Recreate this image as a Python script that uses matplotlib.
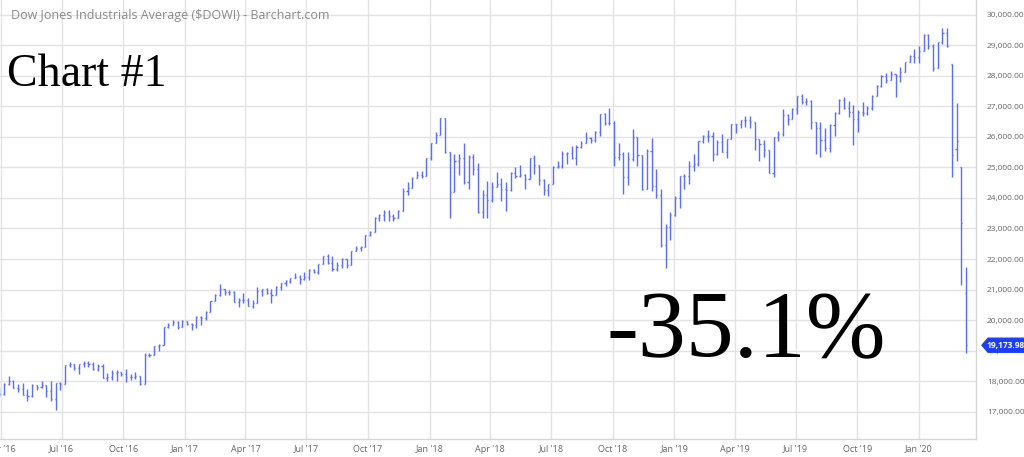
import matplotlib
matplotlib.use("Agg")
import matplotlib.pyplot as plt
import matplotlib.dates as mdates
from matplotlib.patches import Polygon
from matplotlib.ticker import FuncFormatter
import pandas as pd

# ---------------- data: weekly OHLC of the Dow Jones Industrial Average ----------------
start_week = "2016-03-28"

opens = [
    # 2016
    17515, 17799, 17586, 17890, 18003, 17783, 17740, 17531, 17500, 17873,
    17807, 17865, 17675, 17400, 17949, 17896, 18516, 18570, 18432, 18543,
    18576, 18552, 18395, 18492, 18085, 18123, 18261, 18308, 18240, 18138,
    18145, 18161, 17888, 18847, 18868, 19152, 19171, 19757, 19843, 19934,
    # 2017
    19763, 19964, 19885, 19827, 20094, 20071, 20269, 20624, 20822, 21006,
    20903, 20915, 20597, 20663, 20656, 20453, 20548, 20941, 21007, 20897,
    20805, 21080, 21206, 21272, 21384, 21395, 21350, 21414, 21638, 21580,
    21830, 22092, 21858, 21675, 21814, 21988, 21798, 22268, 22350, 22405,
    22774, 22872, 23329, 23434, 23539, 23422, 23358, 23558, 24231, 24329,
    24652, 24754,
    # 2018
    24719, 25296, 25803, 26072, 26617, 25521, 24191, 25219, 25310, 24539,
    25336, 24946, 23534, 24103, 23933, 24360, 24463, 24311, 24263, 24831,
    24715, 24753, 24635, 25317, 25090, 24581, 24271, 24456, 25019, 25058,
    25451, 25463, 25313, 25669, 25790, 25965, 25917, 26155, 26743, 26458,
    26447, 25340, 25444, 24688, 25270, 25989, 25413, 24286, 25538, 24389,
    24100, 22445,
    # 2019
    23062, 23433, 23996, 24706, 24737, 25064, 25106, 25883, 26031, 26026,
    25450, 25849, 25502, 25929, 26425, 26412, 26559, 26543, 26505, 25942,
    25764, 25586, 24815, 25984, 26090, 26719, 26600, 26922, 27332, 27154,
    27192, 26485, 26287, 25886, 25629, 26403, 26797, 27220, 26935, 26820,
    26573, 26817, 26770, 26958, 27347, 27681, 28005, 27876, 28051, 28015,
    28135, 28455,
    # 2020
    28645, 28634, 28824, 29348, 28990, 28256, 29102, 29398, 28402, 25590,
    25000, 20900,
]

highs = [
    # 2016
    17792, 17799, 17938, 18168, 18042, 17912, 17935, 17746, 17891, 17873,
    18016, 17865, 18011, 17950, 17979, 18537, 18623, 18571, 18560, 18668,
    18650, 18620, 18550, 18550, 18260, 18362, 18366, 18308, 18399, 18230,
    18284, 18176, 18934, 18934, 19153, 19225, 19757, 19912, 19988, 19981,
    # 2017
    19999, 19973, 19917, 20126, 20125, 20298, 20639, 20840, 21169, 21006,
    21000, 20962, 20728, 20888, 20716, 20657, 21070, 21033, 21034, 21012,
    21112, 21225, 21305, 21392, 21535, 21480, 21562, 21681, 21681, 21830,
    22092, 22180, 22085, 21910, 22025, 21988, 22275, 22419, 22414, 22780,
    22906, 23368, 23485, 23602, 23602, 23470, 23604, 24327, 24534, 24672,
    24876, 24871,
    # 2018
    25316, 25811, 26153, 26617, 26617, 25521, 25432, 25441, 25800, 25400,
    25450, 25140, 24247, 24541, 24533, 24858, 24670, 24511, 24868, 25013,
    25087, 24800, 25326, 25402, 25090, 24635, 24474, 25060, 25216, 25527,
    25511, 25692, 25747, 25876, 26167, 26000, 26200, 26769, 26770, 26952,
    26520, 25818, 25521, 25502, 26277, 26010, 25413, 25600, 25980, 24951,
    24300, 23138,
    # 2019
    23531, 24064, 24706, 24800, 25200, 25439, 25883, 26052, 26241, 26155,
    25907, 26109, 25949, 26425, 26425, 26565, 26695, 26695, 26505, 25942,
    25900, 25586, 25984, 26186, 26907, 26769, 26966, 27359, 27398, 27269,
    27227, 26490, 26501, 26283, 26434, 26828, 27235, 27300, 27170, 27046,
    26880, 27143, 27010, 27360, 27704, 28037, 28090, 28175, 28068, 28290,
    28457, 28701,
    # 2020
    28872, 28995, 29374, 29374, 29040, 29103, 29569, 29568, 28402, 27102,
    25018, 21750,
]

lows = [
    # 2016
    17482, 17484, 17542, 17880, 17762, 17630, 17531, 17331, 17476, 17703,
    17779, 17471, 17356, 17063, 17713, 17896, 18448, 18358, 18247, 18473,
    18460, 18360, 18340, 18085, 17992, 18050, 18013, 18150, 17960, 18020,
    18080, 17884, 17888, 18777, 18868, 18995, 19171, 19725, 19843, 19718,
    # 2017
    19775, 19835, 19678, 19746, 19831, 20010, 20269, 20624, 20787, 20813,
    20813, 20600, 20412, 20550, 20453, 20380, 20548, 20800, 20841, 20553,
    20805, 20971, 21104, 21215, 21385, 21197, 21320, 21320, 21530, 21513,
    21830, 21844, 21600, 21600, 21705, 21709, 21798, 22250, 22247, 22405,
    22743, 22872, 23231, 23242, 23250, 23242, 23358, 23558, 24114, 24329,
    24652, 24665,
    # 2018
    24719, 25240, 25800, 26072, 25490, 23360, 24191, 24760, 24445, 24300,
    24770, 23509, 23344, 23344, 23860, 24360, 23908, 23582, 24215, 24655,
    24680, 24296, 24635, 24800, 24430, 24084, 24077, 24456, 24970, 24980,
    25124, 25280, 25087, 25640, 25790, 25790, 25828, 26030, 26385, 26380,
    25052, 25237, 24122, 24432, 25200, 25062, 24268, 24286, 24242, 24002,
    22397, 21713,
    # 2019
    22638, 23413, 23660, 24302, 24473, 24883, 25052, 25800, 25832, 25208,
    25400, 25502, 25323, 25929, 26139, 26295, 26340, 26300, 25589, 25222,
    25328, 24815, 24680, 25860, 26040, 26406, 26600, 26739, 27076, 27036,
    26249, 25440, 25340, 25550, 25500, 26040, 26750, 26930, 26660, 25743,
    26169, 26692, 26714, 26885, 27347, 27646, 27766, 27876, 27325, 27815,
    28135, 28455,
    # 2020
    28418, 28419, 28819, 28887, 28169, 28256, 29060, 28960, 24681, 25226,
    21154, 18917,
]

closes = [
    # 2016
    17792, 17577, 17897, 18003, 17773, 17740, 17535, 17500, 17873, 17807,
    17865, 17675, 17400, 17949, 17896, 18516, 18570, 18432, 18543, 18576,
    18552, 18395, 18492, 18085, 18123, 18261, 18308, 18240, 18138, 18145,
    18161, 17888, 18847, 18868, 19152, 19171, 19757, 19843, 19934, 19763,
    # 2017
    19964, 19885, 19827, 20094, 20071, 20269, 20624, 20822, 21006, 20903,
    20915, 20597, 20663, 20656, 20453, 20548, 20941, 21007, 20897, 20805,
    21080, 21206, 21272, 21384, 21395, 21350, 21414, 21638, 21580, 21830,
    22092, 21858, 21675, 21814, 21988, 21798, 22268, 22350, 22405, 22774,
    22872, 23329, 23434, 23539, 23422, 23358, 23558, 24231, 24329, 24652,
    24754, 24719,
    # 2018
    25296, 25803, 26072, 26617, 25521, 24191, 25219, 25310, 24539, 25336,
    24946, 23534, 24103, 23933, 24360, 24463, 24311, 24263, 24831, 24715,
    24753, 24635, 25317, 25090, 24581, 24271, 24456, 25019, 25058, 25451,
    25463, 25313, 25669, 25790, 25965, 25917, 26155, 26743, 26458, 26447,
    25340, 25444, 24688, 25270, 25989, 25413, 24286, 25538, 24389, 24100,
    22445, 23062,
    # 2019
    23433, 23996, 24706, 24737, 25064, 25106, 25883, 26031, 26026, 25450,
    25849, 25502, 25929, 26425, 26412, 26559, 26543, 26505, 25942, 25764,
    25586, 24815, 25984, 26090, 26719, 26600, 26922, 27332, 27154, 27192,
    26485, 26287, 25886, 25629, 26403, 26797, 27220, 26935, 26820, 26573,
    26817, 26770, 26958, 27347, 27681, 28005, 27876, 28051, 28015, 28135,
    28455, 28645,
    # 2020
    28634, 28824, 29348, 28990, 28256, 29102, 29398, 28992, 25409, 25864,
    23186, 19173.98,
]

y_ticks = [17000, 18000, 19000, 20000, 21000, 22000, 23000, 24000, 25000,
           26000, 27000, 28000, 29000, 30000]
x_tick_dates = ["2016-04-01", "2016-07-01", "2016-10-01", "2017-01-01", "2017-04-01",
                "2017-07-01", "2017-10-01", "2018-01-01", "2018-04-01", "2018-07-01",
                "2018-10-01", "2019-01-01", "2019-04-01", "2019-07-01", "2019-10-01",
                "2020-01-01"]
x_tick_labels = ["Apr '16", "Jul '16", "Oct '16", "Jan '17", "Apr '17", "Jul '17",
                 "Oct '17", "Jan '18", "Apr '18", "Jul '18", "Oct '18", "Jan '19",
                 "Apr '19", "Jul '19", "Oct '19", "Jan '20"]

title_text = "Dow Jones Industrials Average ($DOWI) - Barchart.com"
big_label = "Chart #1"
pct_label = "-35.1%"

# ---------------- figure ----------------
W, H = 1024, 457
fig = plt.figure(figsize=(W / 100, H / 100), dpi=100)
ax_right = 976
ax_bottom = 439
ax = fig.add_axes([0, (H - ax_bottom) / H, ax_right / W, ax_bottom / H])

dates = pd.date_range(start_week, periods=len(closes), freq="W-MON")
bar_offset_days = 5  # bars are drawn slightly before the week's Monday, as in the source
x = mdates.date2num(dates.to_pydatetime()) - bar_offset_days

bar_color = "#5a6dff"
ax.vlines(x, lows, highs, color=bar_color, linewidth=1.0, zorder=3)
tick = 1.6  # days
ax.hlines(opens, x - tick, x, color=bar_color, linewidth=1.0, zorder=3)
ax.hlines(closes, x, x + tick, color=bar_color, linewidth=1.0, zorder=3)

ax.set_xlim(mdates.date2num(pd.Timestamp("2016-03-31")), mdates.date2num(pd.Timestamp("2020-03-26")))
ax.set_ylim(16100, 30490)

grid_c = "#e3e3e3"
ax.set_xticks(mdates.date2num(pd.to_datetime(x_tick_dates).to_pydatetime()))
ax.set_xticklabels(x_tick_labels)
ax.set_yticks(y_ticks)
ax.yaxis.set_major_formatter(FuncFormatter(lambda v, p: f"{v:,.2f}"))
ax.yaxis.tick_right()
ax.grid(True, color=grid_c, linewidth=1.0, zorder=0)
ax.set_axisbelow(True)

label_font = ["Open Sans", "DejaVu Sans"]
ax.tick_params(axis="both", length=0, colors="#777777")
ax.tick_params(axis="y", pad=8, labelsize=6)
ax.tick_params(axis="x", pad=4, labelsize=6.5)
for lab in ax.get_xticklabels() + ax.get_yticklabels():
    lab.set_family(label_font)
    lab.set_color("#666666")

for side in ["top", "left"]:
    ax.spines[side].set_visible(False)
for side in ["right", "bottom"]:
    ax.spines[side].set_color("#d6d6d6")
    ax.spines[side].set_linewidth(1.0)

# texts
fig.text(11 / W, 1 - 15 / H, title_text, fontsize=9, color="#8a8a8a",
         family=["Open Sans", "DejaVu Sans"], va="center", ha="left")
fig.text(7 / W, 1 - 86 / H, big_label, fontsize=33, color="black",
         family=["Liberation Serif", "DejaVu Serif"], va="baseline", ha="left")
fig.text(606 / W, 1 - 357 / H, pct_label, fontsize=69, color="black",
         family=["Liberation Serif", "DejaVu Serif"], va="baseline", ha="left")

# last price tag
fig.canvas.draw()
last = closes[-1]
_, py = ax.transData.transform((x[-1], last))
tag_c = "#1a3dff"
x0, x1, h = 982, 1024, 7
poly = Polygon([[x0, py], [x0 + 6, py + h], [x1, py + h], [x1, py - h], [x0 + 6, py - h]],
               closed=True, transform=None, facecolor=tag_c, edgecolor=tag_c, zorder=10)
fig.patches.append(poly)
tx, ty = fig.transFigure.inverted().transform((x0 + 5 + (x1 - x0 - 5) / 2, py))
fig.text(tx, ty, f"{last:,.2f}", color="white", fontsize=6, fontweight="bold",
         family=label_font, ha="center", va="center", zorder=11)

fig.savefig("out.png", dpi=100)
